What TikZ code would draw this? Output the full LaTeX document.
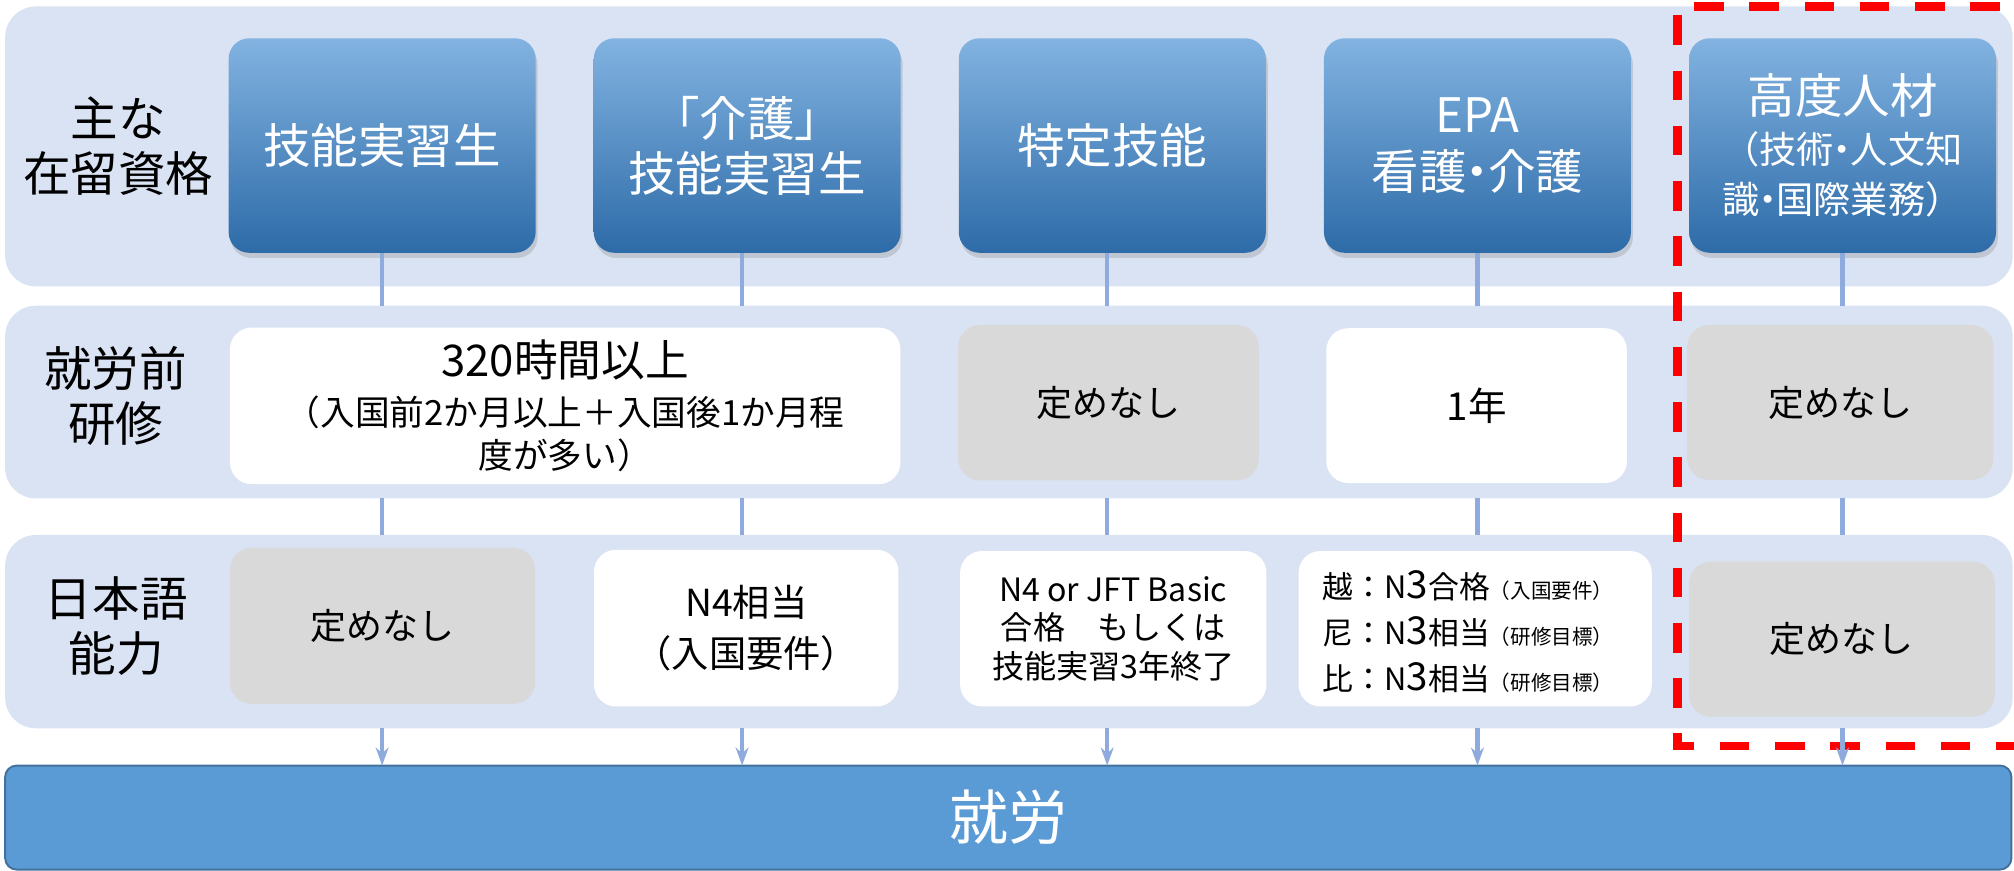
\documentclass[tikz,border=0pt]{standalone}
\usepackage{fontspec}
\setmainfont{Noto Sans CJK JP}
\usetikzlibrary{shadows,arrows.meta}
\definecolor{bandc}{HTML}{DAE3F3}
\definecolor{gboxc}{HTML}{D9D9D9}
\definecolor{connc}{HTML}{8FAADC}
\definecolor{barc}{HTML}{5B9BD5}
\definecolor{barline}{HTML}{41719C}
\definecolor{hdrtop}{HTML}{82B3E1}
\definecolor{hdrbot}{HTML}{2D6BA8}
\definecolor{dashred}{HTML}{FF0000}
\newcommand{\ndot}{\makebox[0.45em][c]{・}}
\begin{document}
\begin{tikzpicture}[x=1pt,y=-1pt,
  every node/.style={inner sep=0pt, outer sep=0pt},
  band/.style={fill=bandc, draw=none, rounded corners=24pt, anchor=north west},
  hdr/.style={rounded corners=16pt, top color=hdrtop, bottom color=hdrbot, draw=none,
    text=white, minimum width=239pt, minimum height=167pt, align=center,
    font=\fontsize{37}{43}\selectfont,
    drop shadow={shadow xshift=1.5pt, shadow yshift=-4pt, opacity=0.28}},
  wbox/.style={fill=white, rounded corners=17pt, align=center},
  gbox/.style={fill=gboxc, rounded corners=17pt, align=center, font=\fontsize{28}{34}\selectfont},
  lbl/.style={align=center, font=\fontsize{37}{43}\selectfont},
  conn/.style={draw=connc, line width=3.5pt},
  arr/.style={conn, -{Stealth[length=14pt,width=10pt]}},
  reddash/.style={draw=dashred, line width=6.5pt, dash pattern=on 23pt off 20pt},
]
\useasboundingbox (0,0) rectangle (1568,678.1);

% bands
\node[band, minimum width=1563pt, minimum height=218pt] (b1) at (4,5) {};
\node[band, minimum width=1563pt, minimum height=150pt] (b2) at (4,238) {};
\node[band, minimum width=1563pt, minimum height=150.5pt] (b3) at (4,416.5) {};

% row labels
\node[lbl] (l1) at (92,113.5) {主な\\在留資格};
\node[lbl] (l2) at (90,308.5) {就労前\\研修};
\node[lbl] (l3) at (90.5,487.5) {日本語\\能力};

% header boxes
\node[hdr] (h1) at (297.5,113.3) {技能実習生};
\node[hdr] (h2) at (581.75,113.3) {「介護」\\技能実習生};
\node[hdr] (h3) at (866,113.3) {特定技能};
\node[hdr] (h4) at (1150.25,113.3) {EPA\\[2pt]看護\ndot 介護};
\node[hdr, font=\fontsize{29}{39}\selectfont] (h5) at (1434.5,113.3)
  {{\fontsize{37}{43}\selectfont 高度人材}\\（技術\ndot 人文知\\識\ndot 国際業務）};

% pre-work training row
\node[wbox, minimum width=522pt, minimum height=122pt, font=\fontsize{27}{36}\selectfont] (t1) at (440,316)
  {{\fontsize{34}{40}\selectfont 320時間以上}\\[2pt]（入国前2か月以上＋入国後1か月程\\[-2pt]度が多い）};
\node[gbox, minimum width=234pt, minimum height=121pt] (t3) at (863,313.5) {定めなし};
\node[wbox, minimum width=234pt, minimum height=120.5pt, font=\fontsize{30}{34}\selectfont] (t4) at (1149.6,315.8) {1年};
\node[gbox, minimum width=238.5pt, minimum height=120.7pt] (t5) at (1432.75,313.35) {定めなし};

% Japanese ability row
\node[gbox, minimum width=237.6pt, minimum height=121.5pt] (u1) at (297.8,487.25) {定めなし};
\node[wbox, minimum width=237pt, minimum height=122pt, font=\fontsize{29}{39}\selectfont] (u2) at (581,489) {N4相当\\（入国要件）};
\node[wbox, minimum width=238.5pt, minimum height=121pt, font=\fontsize{25}{30}\selectfont] (u3) at (866.75,489.5)
  {N4 or JFT Basic\\合格　もしくは\\技能実習3年終了};
\node[wbox, minimum width=275pt, minimum height=121pt] (u4) at (1148.5,489.5) {};
\node[align=left, font=\fontsize{24}{36}\selectfont] (u4t) at (1143,492)
  {越：N{\fontsize{30}{36}\selectfont 3}合格{\fontsize{16}{20}\selectfont （入国要件）}\\
   尼：N{\fontsize{30}{36}\selectfont 3}相当{\fontsize{16}{20}\selectfont （研修目標）}\\
   比：N{\fontsize{30}{36}\selectfont 3}相当{\fontsize{16}{20}\selectfont （研修目標）}};
\node[gbox, minimum width=238pt, minimum height=120.7pt] (u5) at (1434,497.65) {定めなし};

% employment bar
\node[fill=barc, draw=barline, line width=1.5pt, rounded corners=9pt, minimum width=1562pt, minimum height=81pt,
  anchor=north west] (bar) at (4,596) {};
\node[text=white, font=\fontsize{46}{50}\selectfont] (barlbl) at (bar.center) {就労};

% red dashed frame
\draw[reddash] (1600,5) -- (1306,5) -- (1306,581) -- (1600,581);

% connectors
\coordinate (c1) at (h1.south);
\coordinate (c2) at ([xshift=-4pt]h2.south);
\coordinate (c3) at ([xshift=-4pt]h3.south);
\coordinate (c4) at (h4.south);
\coordinate (c5) at (h5.south);
\foreach \c in {c1,c2,c3,c4,c5} {
  \draw[conn] (\c) -- (\c |- b2.north);
  \draw[conn] (\c |- b2.south) -- (\c |- b3.north);
  \draw[arr] (\c |- b3.south) -- (\c |- bar.north);
}
\end{tikzpicture}
\end{document}
